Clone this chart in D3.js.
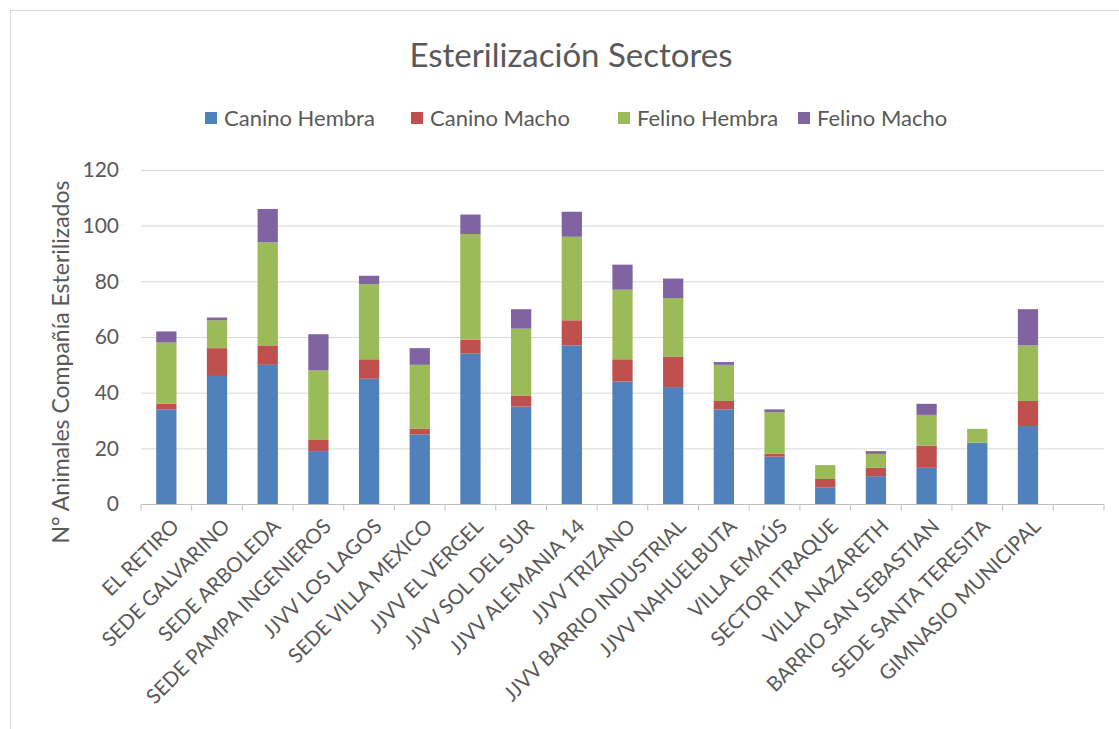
<!DOCTYPE html>
<html lang="es">
<head>
<meta charset="UTF-8">
<title>Esterilización Sectores</title>
<script src="https://d3js.org/d3.v7.min.js"></script>
<style>
  body { margin: 0; background: #fff; }
  text { font-family: Lato, "Open Sans", sans-serif; fill: #595959; }
</style>
</head>
<body>
<svg id="chart" width="1119" height="729"></svg>
<script>
// categories and series
const sectores = [
  "EL RETIRO", "SEDE GALVARINO", "SEDE ARBOLEDA", "SEDE PAMPA INGENIEROS",
  "JJVV LOS LAGOS", "SEDE VILLA MEXICO", "JJVV EL VERGEL", "JJVV SOL DEL SUR",
  "JJVV ALEMANIA 14", "JJVV TRIZANO", "JJVV BARRIO INDUSTRIAL", "JJVV NAHUELBUTA",
  "VILLA EMAÚS", "SECTOR ITRAQUE", "VILLA NAZARETH", "BARRIO SAN SEBASTIAN",
  "SEDE SANTA TERESITA", "GIMNASIO MUNICIPAL"
];
const caninoHembra = [34, 46, 50, 19, 45, 25, 54, 35, 57, 44, 42, 34, 17, 6, 10, 13, 22, 28];
const caninoMacho  = [2, 10, 7, 4, 7, 2, 5, 4, 9, 8, 11, 3, 1, 3, 3, 8, 0, 9];
const felinoHembra = [22, 10, 37, 25, 27, 23, 38, 24, 30, 25, 21, 13, 15, 5, 5, 11, 5, 20];
const felinoMacho  = [4, 1, 12, 13, 3, 6, 7, 7, 9, 9, 7, 1, 1, 0, 1, 4, 0, 13];

const seriesNames = ["Canino Hembra", "Canino Macho", "Felino Hembra", "Felino Macho"];
const seriesColors = ["#4f81bd", "#c0504d", "#9bbb59", "#8064a2"];
const yTicks = [0, 20, 40, 60, 80, 100, 120];

const svg = d3.select("#chart");

// light frame around the chart (right and bottom edges fall outside the picture)
svg.append("rect")
  .attr("x", 10.5).attr("y", 10.5)
  .attr("width", 1130).attr("height", 740)
  .attr("fill", "none").attr("stroke", "#d9d9d9");

const table = sectores.map((s, i) => ({
  sector: s,
  "Canino Hembra": caninoHembra[i],
  "Canino Macho": caninoMacho[i],
  "Felino Hembra": felinoHembra[i],
  "Felino Macho": felinoMacho[i]
}));
const stacked = d3.stack().keys(seriesNames)(table);

// Excel left an empty slot at the end of the axis
const x = d3.scaleBand()
  .domain(sectores.concat([" "]))
  .range([141, 1104])
  .paddingInner(0.6)
  .paddingOuter(0.3);
const y = d3.scaleLinear().domain([0, 120]).range([504, 170]);
const color = d3.scaleOrdinal().domain(seriesNames).range(seriesColors);

// gridlines
svg.append("g")
  .selectAll("line")
  .data(yTicks.slice(1))
  .join("line")
  .attr("x1", 141).attr("x2", 1104)
  .attr("y1", d => y(d) + 0.5).attr("y2", d => y(d) + 0.5)
  .attr("stroke", "#d9d9d9").attr("stroke-width", 1);

// y axis labels
const yAxis = svg.append("g")
  .attr("transform", "translate(141,0)")
  .call(d3.axisLeft(y).tickValues(yTicks).tickSize(0).tickPadding(22));
yAxis.select(".domain").remove();
yAxis.selectAll("text")
  .style("font-size", "21px")
  .attr("fill", "#595959");

// bars
svg.append("g")
  .selectAll("g")
  .data(stacked)
  .join("g")
  .attr("fill", d => color(d.key))
  .selectAll("rect")
  .data(d => d)
  .join("rect")
  .attr("x", d => x(d.data.sector))
  .attr("width", x.bandwidth())
  .attr("y", d => y(d[1]))
  .attr("height", d => y(d[0]) - y(d[1]));

// x axis
const nSlots = sectores.length + 1;
const xAxis = svg.append("g").attr("transform", "translate(0,504.5)");
xAxis.append("line")
  .attr("x1", 141).attr("x2", 1104)
  .attr("stroke", "#bfbfbf");
xAxis.selectAll("line.tick")
  .data(d3.range(nSlots + 1))
  .join("line")
  .attr("class", "tick")
  .attr("x1", i => 141 + i * (1104 - 141) / nSlots)
  .attr("x2", i => 141 + i * (1104 - 141) / nSlots)
  .attr("y1", 0).attr("y2", 6)
  .attr("stroke", "#bfbfbf");
xAxis.selectAll("text")
  .data(sectores)
  .join("text")
  .attr("transform", d => `translate(${x(d) + x.bandwidth() / 2 + 9},18) rotate(-45)`)
  .attr("text-anchor", "end")
  .attr("dy", "0.35em")
  .style("font-size", "20.5px")
  .text(d => d);

// y axis title
svg.append("text")
  .attr("transform", "translate(69,362) rotate(-90)")
  .attr("text-anchor", "middle")
  .style("font-size", "23px")
  .text("N° Animales Compañía Esterilizados");

// title
svg.append("text")
  .attr("x", 571).attr("y", 67)
  .attr("text-anchor", "middle")
  .style("font-size", "33px")
  .text("Esterilización Sectores");

// legend
const legendX = [205, 411, 618, 798];
const legend = svg.append("g")
  .selectAll("g")
  .data(seriesNames)
  .join("g")
  .attr("transform", (d, i) => `translate(${legendX[i]},118)`);
legend.append("rect")
  .attr("x", 0).attr("y", -6)
  .attr("width", 12).attr("height", 12)
  .attr("fill", d => color(d));
legend.append("text")
  .attr("x", 19).attr("dy", "0.35em")
  .style("font-size", "22px")
  .text(d => d);
</script>
</body>
</html>
